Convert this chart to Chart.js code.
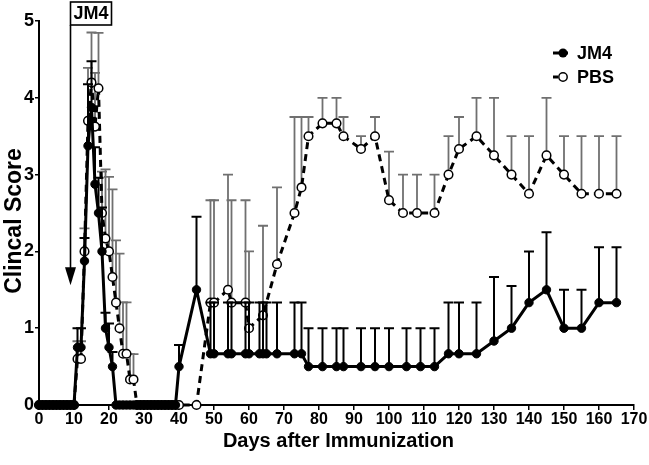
<!DOCTYPE html>
<html>
<head>
<meta charset="utf-8">
<script src="https://cdn.jsdelivr.net/npm/chart.js@4.4.1/dist/chart.umd.min.js"></script>
<style>
  html, body { margin: 0; padding: 0; background: #fff; }
  #wrap { width: 649px; height: 465px; position: relative; }
</style>
</head>
<body>
<div id="wrap"><canvas id="c" width="649" height="465"></canvas></div>
<script>
// ---- Data ----
const seriesNames = ['JM4', 'PBS'];

const jm4Days = [0,1,2,3,4,5,6,7,8,9,10,
  11,12,13,14,15,16,17,18,19,20,21,
  22,23,24,25,26,27,28,29,30,31,32,33,34,35,36,37,38,39,
  40,45,
  49,50,54,55,59,60,63,64,65,68,73,75,
  77,81,85,87,92,96,100,105,109,113,
  117,120,125,130,135,140,145,150,155,160,165];
const jm4Score = [0,0,0,0,0,0,0,0,0,0,0,
  0.75,0.75,1.875,3.375,3.875,2.875,2.5,2.0,1.0,0.75,0.5,
  0,0,0,0,0,0,0,0,0,0,0,0,0,0,0,0,0,0,
  0.5,1.5,
  0.667,0.667,0.667,0.667,0.667,0.667,0.667,0.667,0.667,0.667,0.667,0.667,
  0.5,0.5,0.5,0.5,0.5,0.5,0.5,0.5,0.5,0.5,
  0.667,0.667,0.667,0.833,1.0,1.333,1.5,1.0,1.0,1.333,1.333];
const jm4Sem = [0,0,0,0,0,0,0,0,0,0,0,
  0.25,0.25,0.3,0.8,0.6,0.48,0.46,0.57,0.2,0.31,0.19,
  0,0,0,0,0,0,0,0,0,0,0,0,0,0,0,0,0,0,
  0.28,0.95,
  0.667,0.667,0.667,0.667,0.667,0.667,0.667,0.667,0.667,0.667,0.667,0.667,
  0.5,0.5,0.5,0.5,0.5,0.5,0.5,0.5,0.5,0.5,
  0.667,0.667,0.667,0.833,0.55,0.667,0.75,0.5,0.5,0.72,0.72];

const pbsDays = [0,1,2,3,4,5,6,7,8,9,10,
  11,12,13,14,15,16,17,18,19,20,21,22,23,24,25,26,27,
  28,29,30,31,32,33,34,35,36,37,38,39,40,
  45,
  49,50,54,55,59,60,64,68,
  73,75,77,81,85,87,92,96,
  100,104,108,113,
  117,120,125,130,135,140,145,150,155,160,165];
const pbsScore = [0,0,0,0,0,0,0,0,0,0,0,
  0.6,0.6,2.0,3.7,4.2,3.625,4.125,2.5,2.167,2.0,1.667,1.333,1.0,0.667,0.667,0.333,0.333,
  0,0,0,0,0,0,0,0,0,0,0,0,0,
  0,
  1.333,1.333,1.5,1.333,1.333,1.0,1.167,1.833,
  2.5,2.833,3.5,3.667,3.667,3.5,3.333,3.5,
  2.667,2.5,2.5,2.5,
  3.0,3.333,3.5,3.25,3.0,2.75,3.25,3.0,2.75,2.75,2.75];
const pbsSem = [0,0,0,0,0,0,0,0,0,0,0,
  0.23,0.23,0.3,0.69,0.65,0.7,0.72,0.54,0.9,0.97,1.14,0.81,0.97,0.67,0.67,0.33,0.33,
  0,0,0,0,0,0,0,0,0,0,0,0,0,
  0,
  1.333,1.333,1.5,1.333,1.333,1.0,1.167,1.0,
  1.25,0.917,0.25,0.333,0.333,0.25,0.167,0.25,
  0.633,0.5,0.5,0.5,
  0.5,0.417,0.5,0.75,0.5,0.75,0.75,0.5,0.75,0.75,0.75];

const xTicks = [0,10,20,30,40,50,60,70,80,90,100,110,120,130,140,150,160,170];
const yTicks = [0,1,2,3,4,5];
const xTitle = 'Days after Immunization';
const yTitle = 'Clincal Score';
const treatmentLabel = 'JM4';
const treatmentDay = 9;

// ---- Build chart ----
const FONT = "'Liberation Sans', Arial, Helvetica, sans-serif";
const toPts = (d, v) => d.map((x, i) => ({ x: x, y: v[i] }));
const semSets = [jm4Sem, pbsSem];
const daySets = [jm4Days, pbsDays];
const valSets = [jm4Score, pbsScore];

const errorBars = {
  id: 'errorBars',
  beforeDatasetDraw(chart, args) {
    const i = args.index;
    const xs = chart.scales.x, ys = chart.scales.y, ctx = chart.ctx;
    ctx.save();
    ctx.strokeStyle = i === 0 ? '#000' : '#707070';
    ctx.lineWidth = i === 0 ? 2 : 1.8;
    const d = daySets[i], v = valSets[i], s = semSets[i];
    for (let k = 0; k < d.length; k++) {
      if (!s[k]) continue;
      const x = xs.getPixelForValue(d[k]);
      const y0 = ys.getPixelForValue(v[k]);
      const y1 = ys.getPixelForValue(v[k] + s[k]);
      ctx.beginPath();
      ctx.moveTo(x, y0); ctx.lineTo(x, y1);
      ctx.moveTo(x - 5, y1); ctx.lineTo(x + 5, y1);
      ctx.stroke();
    }
    ctx.restore();
  }
};

const decorations = {
  id: 'decorations',
  afterDraw(chart) {
    const ctx = chart.ctx, xs = chart.scales.x, ys = chart.scales.y;
    const area = chart.chartArea;
    ctx.save();
    ctx.fillStyle = '#000';
    ctx.strokeStyle = '#000';
    // axis titles
    ctx.font = 'bold 20px ' + FONT;
    ctx.textAlign = 'center';
    ctx.textBaseline = 'middle';
    ctx.fillText(xTitle, (area.left + area.right) / 2 + 2, 441);
    ctx.save();
    ctx.translate(15, 221);
    ctx.rotate(-Math.PI / 2);
    ctx.font = 'bold 23px ' + FONT;
    ctx.fillText(yTitle, 0, 0);
    ctx.restore();

    // treatment arrow + box
    const ax = xs.getPixelForValue(treatmentDay);
    const tipY = ys.getPixelForValue(1.56);
    ctx.lineWidth = 1.6;
    ctx.beginPath();
    ctx.moveTo(ax, 25); ctx.lineTo(ax, tipY - 16);
    ctx.stroke();
    ctx.beginPath();
    ctx.moveTo(ax - 5.5, tipY - 18); ctx.lineTo(ax + 5.5, tipY - 18); ctx.lineTo(ax, tipY);
    ctx.closePath(); ctx.fill();
    ctx.lineWidth = 1.6;
    ctx.strokeRect(ax, 2, 41, 23);
    ctx.font = 'bold 18px ' + FONT;
    ctx.textAlign = 'center';
    ctx.fillText(treatmentLabel, ax + 20.5, 14.5);

    // legend
    const lx = 553, rows = [53, 77];
    ctx.textAlign = 'left';
    ctx.font = 'bold 18px ' + FONT;
    ctx.lineWidth = 3;
    ctx.beginPath(); ctx.moveTo(lx, rows[0]); ctx.lineTo(lx + 15, rows[0]); ctx.stroke();
    ctx.beginPath(); ctx.arc(lx + 10, rows[0], 4.5, 0, Math.PI * 2); ctx.fill();
    ctx.fillText(seriesNames[0], 577, rows[0] + 1);
    ctx.beginPath(); ctx.moveTo(lx, rows[1]); ctx.lineTo(lx + 5, rows[1]); ctx.stroke();
    ctx.lineWidth = 1.5;
    ctx.beginPath(); ctx.arc(lx + 10, rows[1], 4.2, 0, Math.PI * 2);
    ctx.fillStyle = '#fff'; ctx.fill(); ctx.stroke();
    ctx.fillStyle = '#000';
    ctx.fillText(seriesNames[1], 577, rows[1] + 1);
    ctx.restore();
  }
};

new Chart(document.getElementById('c'), {
  type: 'line',
  data: {
    datasets: [
      {
        label: seriesNames[0],
        data: toPts(jm4Days, jm4Score),
        borderColor: '#000',
        borderWidth: 3,
        backgroundColor: '#000',
        pointBackgroundColor: '#000',
        pointBorderColor: '#000',
        pointBorderWidth: 1,
        pointRadius: 4.2,
        tension: 0,
        clip: false
      },
      {
        label: seriesNames[1],
        data: toPts(pbsDays, pbsScore),
        borderColor: '#000',
        borderWidth: 3,
        borderDash: [7, 5],
        backgroundColor: '#fff',
        pointBackgroundColor: '#fff',
        pointBorderColor: '#000',
        pointBorderWidth: 1.5,
        pointRadius: 4.3,
        tension: 0,
        clip: false
      }
    ]
  },
  options: {
    responsive: false,
    animation: false,
    events: [],
    layout: { padding: { top: 21, right: 15, left: 0, bottom: 0 } },
    plugins: { legend: { display: false }, tooltip: { enabled: false } },
    scales: {
      x: {
        type: 'linear',
        min: 0, max: 170,
        afterBuildTicks(scale) { scale.ticks = xTicks.map(v => ({ value: v })); },
        afterFit(scale) { scale.height = 60; },
        ticks: {
          autoSkip: false, maxRotation: 0, padding: 0,
          color: '#000',
          font: { family: FONT, size: 16, weight: 'bold' }
        },
        grid: { drawOnChartArea: false, drawTicks: true, tickLength: 5, color: '#000', lineWidth: 1.5 },
        border: { color: '#000', width: 2 }
      },
      y: {
        type: 'linear',
        min: 0, max: 5,
        afterBuildTicks(scale) { scale.ticks = yTicks.map(v => ({ value: v })); },
        afterFit(scale) { scale.width = 39; },
        ticks: {
          padding: 1,
          color: '#000',
          font: { family: FONT, size: 18, weight: 'bold' }
        },
        grid: { drawOnChartArea: false, drawTicks: true, tickLength: 4, color: '#000', lineWidth: 1.5 },
        border: { color: '#000', width: 2 }
      }
    }
  },
  plugins: [errorBars, decorations]
});
</script>
</body>
</html>
